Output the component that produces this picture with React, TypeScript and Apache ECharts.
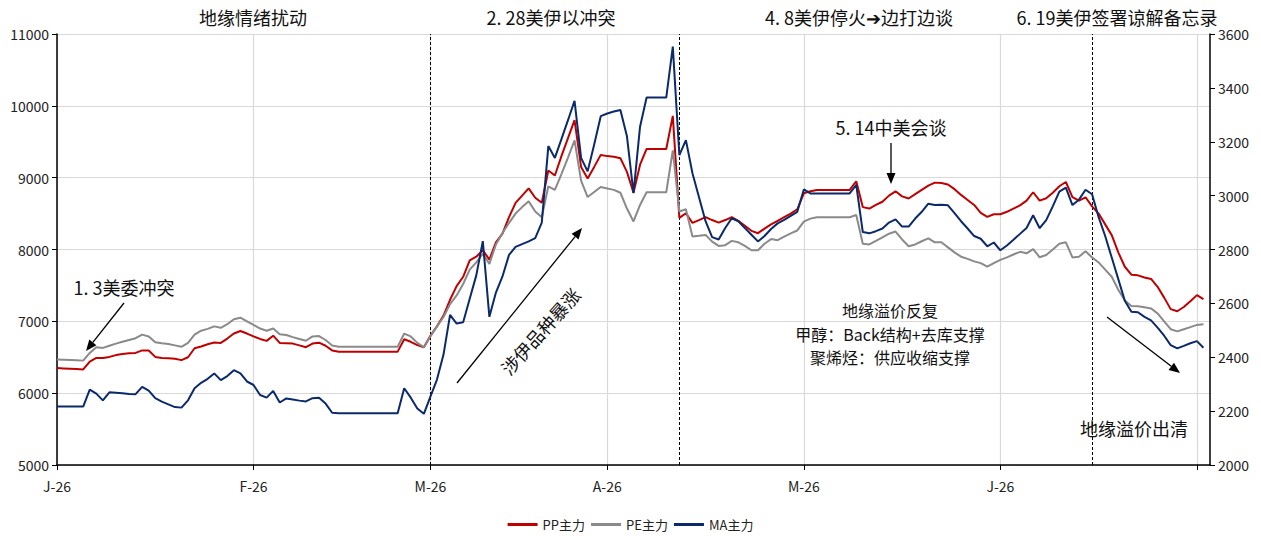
import React, { useEffect, useRef } from "react";
import * as echarts from "echarts";

// Trading-day slots on the category axis (index based, month starts marked below)
const dayCount = 177;
const days: string[] = Array.from({ length: dayCount }, (_, i) => `d${i}`);

// Month ticks: [slot index, label]
const monthTicks: [number, string][] = [
  [0, "J-26"],
  [30, "F-26"],
  [57, "M-26"],
  [84, "A-26"],
  [114, "M-26"],
  [144, "J-26"],
  [174, ""],
];

// Event dividers (slot index): 2.28, 4.8, 6.19
const eventSlots = [57, 95, 158];

// PP主力 (left axis)
const ppMain = [
  6349, 6345, 6340, 6335, 6330, 6440, 6490, 6490, 6505, 6530,
  6545, 6555, 6560, 6595, 6595, 6505, 6490, 6485, 6479, 6460,
  6500, 6625, 6650, 6680, 6705, 6700, 6760, 6830, 6866, 6830,
  6790, 6755, 6728, 6800, 6700, 6695, 6690, 6665, 6640, 6690,
  6703, 6660, 6595, 6578, 6578, 6578, 6578, 6578, 6578, 6578,
  6578, 6578, 6578, 6750, 6715, 6670, 6640, 6800, 6930, 7080,
  7300, 7490, 7620, 7850, 7900, 7990, 7860, 8100, 8220, 8450,
  8650, 8750, 8850, 8720, 8650, 9100, 9030, 9300, 9550, 9800,
  9150, 8990, 9150, 9317, 9300, 9290, 9270, 9080, 8790, 9180,
  9400, 9400, 9400, 9400, 9860, 8440, 8505, 8370, 8410, 8450,
  8410, 8374, 8410, 8449, 8400, 8330, 8260, 8227, 8290, 8350,
  8400, 8450, 8500, 8560, 8783, 8810, 8829, 8829, 8829, 8829,
  8829, 8829, 8950, 8590, 8570, 8620, 8665, 8750, 8810, 8740,
  8710, 8770, 8830, 8890, 8931, 8925, 8905, 8840, 8760, 8690,
  8620, 8510, 8455, 8491, 8491, 8525, 8570, 8615, 8680, 8797,
  8680, 8713, 8790, 8880, 8940, 8730, 8680, 8727, 8600, 8500,
  8350, 8200, 7960, 7760, 7650, 7640, 7610, 7590, 7480, 7330,
  7170, 7140, 7200, 7280, 7365, 7310,
];

// PE主力 (left axis)
const peMain = [
  6470, 6466, 6462, 6458, 6453, 6560, 6640, 6630, 6660, 6690,
  6715, 6740, 6765, 6815, 6790, 6710, 6695, 6685, 6665, 6645,
  6700, 6815, 6870, 6895, 6930, 6910, 6960, 7030, 7050, 7000,
  6950, 6900, 6868, 6900, 6820, 6810, 6780, 6755, 6730, 6790,
  6795, 6740, 6665, 6647, 6647, 6647, 6647, 6647, 6647, 6647,
  6647, 6647, 6647, 6830, 6790, 6700, 6640, 6790, 6930, 7060,
  7240, 7360, 7520, 7720, 7820, 7940, 7800, 8070, 8230, 8370,
  8500, 8590, 8670, 8530, 8450, 8880, 8830, 9050, 9280, 9520,
  8960, 8730, 8800, 8870, 8850, 8830, 8790, 8570, 8390, 8620,
  8797, 8797, 8797, 8797, 9380, 8530, 8560, 8180, 8190, 8203,
  8110, 8050, 8060, 8120, 8100, 8050, 7990, 7990, 8080, 8145,
  8130, 8180, 8225, 8265, 8388, 8430, 8450, 8449, 8449, 8449,
  8449, 8449, 8480, 8080, 8070, 8120, 8170, 8220, 8250, 8140,
  8045, 8070, 8115, 8155, 8100, 8100, 8030, 7960, 7900, 7870,
  7835, 7810, 7760, 7810, 7855, 7890, 7930, 7968, 7947, 8005,
  7892, 7924, 8000, 8080, 8100, 7890, 7900, 7975, 7890, 7820,
  7720, 7620, 7440, 7290, 7214, 7210, 7195, 7180, 7110, 7000,
  6890, 6860, 6890, 6920, 6950, 6960,
];

// MA主力 (right axis)
const maMain = [
  2217, 2217, 2217, 2217, 2217, 2280, 2265, 2240, 2270, 2268,
  2266, 2264, 2263, 2290, 2276, 2248, 2235, 2225, 2215, 2213,
  2240, 2285, 2305, 2320, 2340, 2315, 2330, 2352, 2340, 2310,
  2297, 2260, 2250, 2275, 2232, 2247, 2243, 2239, 2236, 2248,
  2250, 2228, 2194, 2192, 2192, 2192, 2192, 2192, 2192, 2192,
  2192, 2192, 2192, 2285, 2250, 2210, 2190, 2254, 2317, 2410,
  2557, 2525, 2530, 2617, 2704, 2831, 2550, 2640, 2700, 2780,
  2810, 2820, 2830, 2842, 2900, 3184, 3140, 3210, 3280, 3352,
  3140, 3090, 3190, 3295, 3305, 3312, 3318, 3220, 3009, 3256,
  3364, 3364, 3364, 3364, 3553, 3150, 3206, 3083, 2994, 2905,
  2846, 2837, 2880, 2916, 2905, 2880, 2855, 2830, 2850, 2876,
  2897, 2910, 2925, 2940, 3023, 3008, 3008, 3008, 3008, 3008,
  3008, 3008, 3040, 2865, 2860, 2868, 2878, 2900, 2912, 2885,
  2885, 2915, 2940, 2970, 2965, 2966, 2964, 2935, 2905, 2878,
  2850, 2840, 2812, 2826, 2797, 2815, 2836, 2858, 2880, 2927,
  2879, 2909, 2960, 3015, 3030, 2965, 2985, 3022, 3005, 2920,
  2850, 2770, 2690, 2610, 2569, 2567, 2550, 2537, 2510, 2480,
  2445, 2433, 2442, 2452, 2460, 2435,
];

const FONT = '"Noto Sans CJK SC", "Noto Sans", sans-serif';
const TEXT_COLOR = "#111";

type Pt = [number, number];

// A straight arrow with a filled head at the end point
function arrow(from: Pt, to: Pt, head = 11, halfW = 4.5): any[] {
  const dx = to[0] - from[0];
  const dy = to[1] - from[1];
  const len = Math.hypot(dx, dy);
  const ux = dx / len;
  const uy = dy / len;
  const bx = to[0] - ux * head;
  const by = to[1] - uy * head;
  return [
    {
      type: "line",
      z: 100,
      silent: true,
      shape: { x1: from[0], y1: from[1], x2: bx, y2: by },
      style: { stroke: "#000", lineWidth: 1.3 },
    },
    {
      type: "polygon",
      z: 100,
      silent: true,
      shape: {
        points: [
          [to[0], to[1]],
          [bx - uy * halfW, by + ux * halfW],
          [bx + uy * halfW, by - ux * halfW],
        ],
      },
      style: { fill: "#000" },
    },
  ];
}

function label(text: string, x: number, y: number, extra: any = {}): any {
  return {
    type: "text",
    z: 100,
    silent: true,
    x,
    y,
    rotation: extra.rotation ?? 0,
    style: {
      text,
      fill: TEXT_COLOR,
      fontSize: extra.fontSize ?? 18,
      fontFamily: FONT,
      align: "center",
      verticalAlign: "middle",
      textAlign: "center",
      textVerticalAlign: "middle",
    },
  };
}

export default function App() {
  const ref = useRef<HTMLDivElement>(null);

  useEffect(() => {
    document.body.style.margin = "0";
    if (!ref.current) return;
    const chart = echarts.init(ref.current, undefined, { renderer: "svg" });

    const tickIdx = new Set(monthTicks.map((m) => m[0]));
    const labelMap = new Map(monthTicks.map((m) => [m[0], m[1]]));
    const showTick = (index: number) => tickIdx.has(index);

    const lineSeries = (name: string, data: number[], color: string, yAxisIndex = 0) => ({
      name,
      type: "line",
      data,
      yAxisIndex,
      symbol: "none",
      showSymbol: false,
      lineStyle: { color, width: 2 },
      itemStyle: { color },
      z: 5,
    });

    const graphics: any[] = [
      label("地缘情绪扰动", 253, 17),
      label("2. 28美伊以冲突", 551, 17),
      label("4. 8美伊停火➔边打边谈", 859, 17),
      label("6. 19美伊签署谅解备忘录", 1117, 17),
      label("1. 3美委冲突", 124, 287),
      label("涉伊品种暴涨", 540, 331, { rotation: 0.84 }),
      label("5. 14中美会谈", 891, 127),
      label("地缘溢价反复", 890, 310, { fontSize: 16 }),
      label("甲醇：Back结构+去库支撑", 890, 333.5, { fontSize: 16 }),
      label("聚烯烃：供应收缩支撑", 890, 357, { fontSize: 16 }),
      label("地缘溢价出清", 1134, 428),
      ...arrow([124, 303], [86, 351]),
      ...arrow([457, 383], [582, 228]),
      ...arrow([891, 143], [891, 184]),
      ...arrow([1107, 317], [1180, 373]),
    ];

    const plainNumber = (v: number) => String(v);

    chart.setOption({
      animation: false,
      backgroundColor: "#fff",
      textStyle: { fontFamily: FONT },
      grid: { left: 57, right: 51, top: 34, bottom: 71, containLabel: false },
      legend: {
        data: ["PP主力", "PE主力", "MA主力"],
        top: 513,
        left: "center",
        icon: "rect",
        itemWidth: 30,
        itemHeight: 3,
        itemGap: 6,
        textStyle: { fontSize: 13, color: "#222", fontFamily: FONT },
      },
      xAxis: {
        type: "category",
        data: days,
        boundaryGap: false,
        axisLine: { show: true, lineStyle: { color: "#000", width: 1.5 } },
        axisTick: { show: true, interval: showTick, length: 5, lineStyle: { color: "#000" } },
        axisLabel: {
          interval: showTick,
          formatter: (_v: string, index: number) => labelMap.get(index) ?? "",
          color: "#222",
          fontSize: 14,
          margin: 14,
          fontFamily: FONT,
        },
        splitLine: { show: true, interval: showTick, lineStyle: { color: "#d9d9d9", width: 1.2 } },
      },
      yAxis: [
        {
          type: "value",
          min: 5000,
          max: 11000,
          interval: 1000,
          axisLine: { show: true, lineStyle: { color: "#000", width: 1.5 } },
          axisTick: { show: true, length: 5, lineStyle: { color: "#000" } },
          axisLabel: { color: "#222", fontSize: 14, margin: 8, fontFamily: FONT, formatter: plainNumber },
          splitLine: { show: true, lineStyle: { color: "#d9d9d9", width: 1.2 } },
        },
        {
          type: "value",
          position: "right",
          min: 2000,
          max: 3600,
          interval: 200,
          axisLine: { show: true, lineStyle: { color: "#000", width: 1.5 } },
          axisTick: { show: true, length: 5, lineStyle: { color: "#000" } },
          axisLabel: { color: "#222", fontSize: 14, margin: 8, fontFamily: FONT, formatter: plainNumber },
          splitLine: { show: false },
        },
      ],
      series: [
        {
          ...lineSeries("PP主力", ppMain, "#C00000"),
          markLine: {
            silent: true,
            symbol: ["none", "none"],
            label: { show: false },
            lineStyle: { color: "#000", type: [3, 2], width: 1 },
            data: eventSlots.map((i) => ({ xAxis: days[i] })),
          },
        },
        lineSeries("PE主力", peMain, "#8a8a8a"),
        lineSeries("MA主力", maMain, "#0b2a6b", 1),
      ],
      graphic: graphics,
    });

    return () => chart.dispose();
  }, []);

  return <div ref={ref} style={{ width: 1261, height: 536 }} />;
}
